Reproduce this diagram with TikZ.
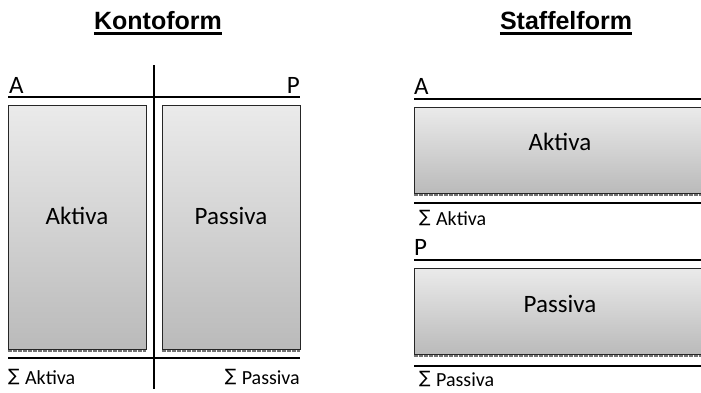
\documentclass[tikz,border=0pt]{standalone}
\usepackage{fontspec}
\setmainfont{Carlito}
\newfontfamily\headfont{Liberation Sans}
\newfontfamily\symbfont{DejaVu Sans}
\newcommand{\sumsign}{\raisebox{2.6pt}{\symbfont\fontsize{17}{20}\selectfont ∑}\hspace{5.5pt}}
\begin{document}
\begin{tikzpicture}[x=1pt,y=-1pt,
  rule/.style={line width=2.4pt,black},
  sheet/.style={draw=black!85,line width=0.9pt,inner sep=0pt,top color=black!8,bottom color=black!27},
  grain/.style={line width=2pt,black!55,dash pattern=on 4pt off 1pt},
  heading/.style={font=\headfont\bfseries\fontsize{25}{30}\selectfont,inner sep=0pt,anchor=base},
  side/.style={font=\fontsize{25}{30}\selectfont,inner sep=0pt,anchor=base west},
  inbox/.style={font=\fontsize{25}{30}\selectfont,inner sep=0pt},
  total/.style={font=\fontsize{20}{24}\selectfont,inner sep=0pt}]
\useasboundingbox (0,0) rectangle (701,392);

% headings
\node[heading] (hk) at (158,29) {Kontoform};
\node[heading] (hs) at (566,29) {Staffelform};
\draw[line width=3pt] ([yshift=-4.8pt]hk.base west) -- ([yshift=-4.8pt]hk.base east);
\draw[line width=3pt] ([yshift=-4.8pt]hs.base west) -- ([yshift=-4.8pt]hs.base east);

% ---- Kontoform ----
\coordinate (kt1) at (8,97);  \coordinate (kt2) at (300,97);
\coordinate (kb1) at (8,358); \coordinate (kb2) at (300,358);
\coordinate (kv1) at (154,65); \coordinate (kv2) at (154,389);

\node[sheet,minimum width=138pt,minimum height=244pt] (ka) at (77,227) {};
\node[sheet,minimum width=138pt,minimum height=244pt] (kp) at (231,227) {};
\draw[grain] ([yshift=-1.8pt]ka.south west) -- ([yshift=-1.8pt]ka.south east);
\draw[grain] ([yshift=-1.8pt]kp.south west) -- ([yshift=-1.8pt]kp.south east);

\draw[rule] (kt1) -- (kt2);
\draw[rule] (kb1) -- (kb2);
\draw[rule] (kv1) -- (kv2);

\node[side] (kA) at (9,93) {A};
\node[side,anchor=base east] (kP) at (300,93) {P};
\node[inbox] (kat) at (77,216) {Aktiva};
\node[inbox] (kpt) at (231,216) {Passiva};
\node[total,anchor=base west] (ksa) at (8,384) {\sumsign Aktiva};
\node[total,anchor=base east] (ksp) at (300,384) {\sumsign Passiva};

% ---- Staffelform ----
\coordinate (sa1) at (414,99);  \coordinate (sa2) at (701,99);
\coordinate (sb1) at (414,203); \coordinate (sb2) at (701,203);
\coordinate (sc1) at (414,260); \coordinate (sc2) at (701,260);
\coordinate (sd1) at (414,366); \coordinate (sd2) at (701,366);

\node[sheet,minimum width=290pt,minimum height=86pt] (sa) at (559,150) {};
\node[sheet,minimum width=290pt,minimum height=86pt] (sp) at (559,311) {};
\draw[grain] ([yshift=-1.8pt]sa.south west) -- ([yshift=-1.8pt]sa.south east);
\draw[grain] ([yshift=-1.8pt]sp.south west) -- ([yshift=-1.8pt]sp.south east);

\draw[rule] (sa1) -- (sa2);
\draw[rule] (sb1) -- (sb2);
\draw[rule] (sc1) -- (sc2);
\draw[rule] (sd1) -- (sd2);

\node[side] (sA) at (414,94) {A};
\node[side] (sP) at (414,255) {P};
\node[inbox] (sat) at (560,142) {Aktiva};
\node[inbox] (spt) at (560,304) {Passiva};
\node[total,anchor=base west] (ssa) at (419,225) {\sumsign Aktiva};
\node[total,anchor=base west] (ssp) at (419,386) {\sumsign Passiva};
\end{tikzpicture}
\end{document}
